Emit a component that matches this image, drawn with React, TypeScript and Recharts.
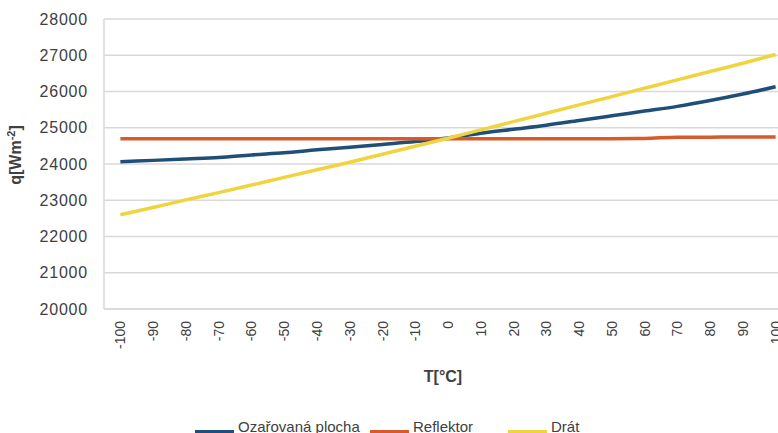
import React from 'react';
import { LineChart, Line, XAxis, YAxis, CartesianGrid, Legend, Label } from 'recharts';

// teplota [°C]
const temps = [-100, -90, -80, -70, -60, -50, -40, -30, -20, -10, 0, 10, 20, 30, 40, 50, 60, 70, 80, 90, 100];

// q [W m^-2] per series
const ozarovana = [24060, 24100, 24140, 24180, 24250, 24310, 24390, 24460, 24540, 24620, 24720, 24850, 24960, 25070, 25200, 25330, 25460, 25590, 25750, 25930, 26130];
const reflektor = [24700, 24700, 24700, 24700, 24700, 24700, 24700, 24700, 24700, 24700, 24700, 24700, 24700, 24700, 24700, 24700, 24705, 24740, 24740, 24745, 24745];
const drat = [22600, 22800, 23010, 23210, 23420, 23630, 23840, 24050, 24270, 24490, 24710, 24940, 25170, 25400, 25630, 25860, 26090, 26320, 26550, 26780, 27020];

const yTicks = [20000, 21000, 22000, 23000, 24000, 25000, 26000, 27000, 28000];

const seriesNames = ['Ozařovaná plocha', 'Reflektor', 'Drát'];
const seriesKeys = ['oz', 'ref', 'drat'];
const seriesColors = ['#1F4E79', '#D75A2B', '#F0D43E'];

const data = temps.map((t, i) => ({ T: t, oz: ozarovana[i], ref: reflektor[i], drat: drat[i] }));

const FONT = '"Liberation Sans", Arial, sans-serif';
const TEXT = '#404040';

const XTick = (props: any) => {
    const { x, y, payload } = props;
    return (
        <g transform={`translate(${x},${y})`}>
            <text transform="rotate(-90)" textAnchor="end" dy="0.36em" fontSize={14} fill={TEXT} fontFamily={FONT}>
                {payload.value}
            </text>
        </g>
    );
};

const YTitle = () => (
    <text transform="translate(21,155) rotate(-90)" textAnchor="middle" fontSize={16} fontWeight="bold" fill={TEXT} fontFamily={FONT}>
        q[Wm
        <tspan dy="-6" fontSize={11}>-2</tspan>
        <tspan dy="6">]</tspan>
    </text>
);

const XTitle = (props: any) => {
    const { viewBox } = props;
    return (
        <text x={viewBox.x + viewBox.width / 2 - 5} y={382} textAnchor="middle" fontSize={16} fontWeight="bold" fill={TEXT} fontFamily={FONT}>
            T[°C]
        </text>
    );
};

// legend item widths (swatch + text + gap), Excel puts them unevenly
const legendWidths = [175, 138, 120];

const ChartLegend = () => (
    <div style={{ display: 'flex', fontFamily: FONT, fontSize: 15, color: TEXT, lineHeight: '17px' }}>
        {seriesNames.map((name, i) => (
            <div key={name} style={{ display: 'flex', alignItems: 'flex-start', width: legendWidths[i] }}>
                <div style={{ width: 39, height: 4, marginTop: 12, marginRight: 4, background: seriesColors[i] }} />
                <span style={{ whiteSpace: 'nowrap' }}>{name}</span>
            </div>
        ))}
    </div>
);

export default function App() {
    return (
        <div style={{ position: 'absolute', left: 0, top: 0, width: 778, height: 433, overflow: 'hidden', background: '#fff' }}>
            <LineChart width={792} height={433} data={data} margin={{ top: 19, right: 0, bottom: 0, left: 0 }}>
                <CartesianGrid vertical={false} stroke="#d9d9d9" strokeWidth={1.5} />
                <XAxis
                    dataKey="T"
                    type="number"
                    domain={[-105, 105]}
                    ticks={temps}
                    interval={0}
                    height={124}
                    tickSize={0}
                    tickMargin={12}
                    tick={<XTick />}
                    axisLine={{ stroke: '#d9d9d9', strokeWidth: 1.5 }}
                    allowDataOverflow
                >
                    <Label content={<XTitle />} />
                </XAxis>
                <YAxis
                    domain={[20000, 28000]}
                    ticks={yTicks}
                    width={104}
                    tickSize={0}
                    tickMargin={16}
                    tick={{ fontSize: 16, fill: TEXT, fontFamily: FONT, letterSpacing: 0.8 }}
                    axisLine={{ stroke: '#d9d9d9', strokeWidth: 1.5 }}
                    tickLine={false}
                    allowDataOverflow
                >
                    <Label content={<YTitle />} />
                </YAxis>
                {seriesKeys.map((k, i) => (
                    <Line
                        key={k}
                        dataKey={k}
                        name={seriesNames[i]}
                        type="monotone"
                        stroke={seriesColors[i]}
                        strokeWidth={3.5}
                        dot={false}
                        activeDot={false}
                        isAnimationActive={false}
                    />
                ))}
                <Legend
                    verticalAlign="middle"
                    align="center"
                    layout="horizontal"
                    content={<ChartLegend />}
                    wrapperStyle={{ left: 195, top: 418, width: 500, height: 20 }}
                />
            </LineChart>
        </div>
    );
}
